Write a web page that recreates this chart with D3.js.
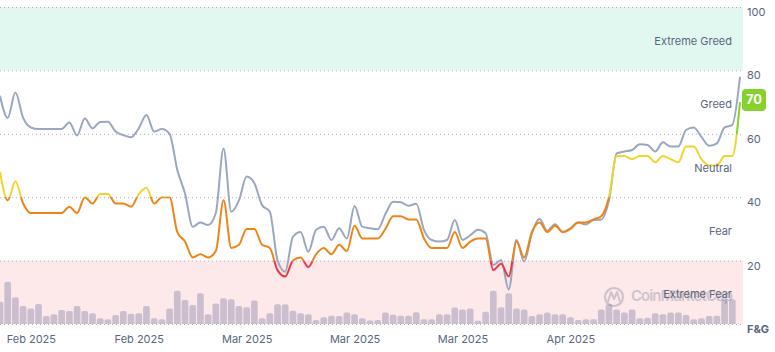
<!DOCTYPE html>
<html>
<head>
<meta charset="utf-8">
<script src="https://cdn.jsdelivr.net/npm/d3@7"></script>
<style>
  html, body { margin: 0; padding: 0; background: #fff; }
  svg { display: block; font-family: Inter, "Noto Sans", sans-serif; }
  .tick-label { font-size: 11px; fill: #58667e; }
  .zone-label { font-size: 11px; fill: #58667e; }
</style>
</head>
<body>
<div id="chart"></div>
<script>
// Fear & Greed index (daily), Bitcoin price (drawn on the index scale), daily volume (relative)
const startDate = new Date(2025, 0, 28);

const fearGreed = [
  48, 39, 45, 38, 35, 35, 35, 35, 35, 37,
  35, 40, 38, 41, 41, 38, 38, 37, 41, 43,
  38, 40, 40, 29, 26, 21, 22, 21, 23, 39,
  24, 25, 30, 30, 25, 24, 17, 15, 20, 21,
  18, 22, 24, 22, 25, 23, 31, 27, 27, 27,
  30, 34, 34, 33, 33, 27, 24, 24, 24, 29,
  24, 26, 27, 27, 17, 19, 15, 26, 21, 29,
  32, 29, 31, 29, 30, 32, 32, 33, 34, 40,
  53, 53, 52, 53, 53, 51, 53, 52, 51, 56,
  56, 52, 50, 50, 53, 53, 70
];

const btcLine = [
  72, 65, 73, 65, 62, 61.5, 61.5, 61.5, 61.5, 63.6,
  59.5, 64.8, 61.7, 63.7, 63.8, 60.7, 59.6, 58.9, 61.7, 65.9,
  60.7, 61.5, 60, 48.6, 41.2, 30.7, 32, 31.2, 35, 55.4,
  35.4, 39, 46.5, 44.4, 37.5, 35.4, 20.2, 16.5, 27.5, 29,
  22.8, 29.7, 30.7, 26.5, 30.2, 27, 37.2, 30.7, 30.2, 29.9,
  34.7, 38.6, 38.4, 37.3, 37.9, 29.7, 26.5, 26, 26.5, 32.8,
  26.5, 28, 29.7, 28.6, 18.6, 20.2, 10.9, 26.5, 19.7, 28.6,
  33.1, 29.4, 31.5, 29, 30.2, 32, 31.4, 32.8, 33, 39,
  53.8, 54.4, 54.9, 56.7, 56.5, 54.4, 57.3, 56, 56, 61.2,
  62, 59, 56.2, 57, 62, 62.8, 78
];

const volume = [
  7.0, 13.3, 8.4, 5.7, 4.9, 6.3, 2.5, 3.1, 4.4, 4.1,
  5.7, 4.1, 3.4, 1.8, 1.5, 2.8, 4.1, 3.2, 3.4, 5.7,
  1.8, 1.5, 4.9, 10.5, 7.6, 6.0, 9.7, 3.1, 6.5, 8.1,
  7.8, 5.7, 5.3, 7.4, 1.8, 3.4, 6.2, 6.2, 4.2, 3.4,
  3.1, 1.3, 2.1, 2.6, 2.5, 3.6, 3.1, 1.8, 1.1, 1.3,
  3.6, 2.9, 2.6, 2.6, 3.7, 1.5, 1.5, 3.1, 3.1, 5.2,
  4.6, 4.9, 1.0, 3.9, 10.5, 5.3, 9.7, 4.9, 4.6, 2.5,
  3.1, 3.6, 3.1, 3.1, 2.1, 1.3, 1.5, 1.5, 4.6, 6.2,
  4.6, 3.6, 4.6, 1.8, 2.0, 3.4, 3.1, 3.6, 3.6, 2.8,
  1.5, 1.8, 2.5, 2.6, 7.8, 7.8
];

const yTicks = [100, 80, 60, 40, 20];
const gridValues = [0, 20, 40, 60, 80, 100];
const zones = [
  { label: "Extreme Greed", mid: 90 },
  { label: "Greed", mid: 70 },
  { label: "Neutral", mid: 50 },
  { label: "Fear", mid: 30 },
  { label: "Extreme Fear", mid: 10 },
];
const xTickDates = [
  new Date(2025, 1, 1), new Date(2025, 1, 15), new Date(2025, 2, 1),
  new Date(2025, 2, 15), new Date(2025, 2, 29), new Date(2025, 3, 12),
];

const COLORS = {
  extremeFear: "#ea3943",
  fear: "#ee8417",
  neutral: "#f3d42f",
  greed: "#84d22b",
  extremeGreed: "#16c784",
  price: "#9aa7be",
  bar: "#cbbfcf",
  text: "#58667e",
};

const WIDTH = 775, HEIGHT = 352;
const PLOT_RIGHT = 743;

const dayOf = (i) => d3.timeDay.offset(startDate, i);

const x = d3.scaleTime()
  .domain([startDate, dayOf(fearGreed.length - 1)])
  .range([0, 740]);

const y = d3.scaleLinear().domain([0, 100]).range([324, 7]);

const step = x(dayOf(1)) - x(dayOf(0));

const svg = d3.select("#chart").append("svg")
  .attr("width", WIDTH)
  .attr("height", HEIGHT);

const defs = svg.append("defs");
defs.append("clipPath").attr("id", "plot-clip")
  .append("rect").attr("x", 0).attr("y", 0).attr("width", PLOT_RIGHT).attr("height", y(0));

// colour by zone: hard stops along the y axis
const grad = defs.append("linearGradient")
  .attr("id", "fg-grad")
  .attr("gradientUnits", "userSpaceOnUse")
  .attr("x1", 0).attr("x2", 0)
  .attr("y1", y(100)).attr("y2", y(0));
const stops = [
  [100, 80, COLORS.extremeGreed],
  [80, 60, COLORS.greed],
  [60, 40, COLORS.neutral],
  [40, 20, COLORS.fear],
  [20, 0, COLORS.extremeFear],
];
stops.forEach(([hi, lo, c]) => {
  grad.append("stop").attr("offset", (100 - hi) / 100).attr("stop-color", c);
  grad.append("stop").attr("offset", (100 - lo) / 100).attr("stop-color", c);
});

// background bands
svg.append("rect")
  .attr("x", 0).attr("y", y(100))
  .attr("width", PLOT_RIGHT).attr("height", y(80) - y(100))
  .attr("fill", "#e1f8f0");
svg.append("rect")
  .attr("x", 0).attr("y", y(20))
  .attr("width", PLOT_RIGHT).attr("height", y(0) - y(20))
  .attr("fill", "#fde8ea");

// volume bars with rounded tops
const plot = svg.append("g").attr("clip-path", "url(#plot-clip)");
const barW = step - 1;
plot.selectAll(".vol")
  .data(volume)
  .join("path")
  .attr("class", "vol")
  .attr("fill", COLORS.bar)
  .attr("d", (d, i) => {
    const cx = x(dayOf(i));
    const x0 = cx - barW / 2, x1 = cx + barW / 2;
    const top = y(d), base = y(0);
    const r = Math.min(2, (base - top) / 2);
    return `M${x0},${base}V${top + r}Q${x0},${top} ${x0 + r},${top}H${x1 - r}Q${x1},${top} ${x1},${top + r}V${base}Z`;
  });

// dotted grid
svg.append("g")
  .selectAll("line")
  .data(gridValues)
  .join("line")
  .attr("x1", 0).attr("x2", PLOT_RIGHT)
  .attr("y1", (d) => y(d) + 0.5).attr("y2", (d) => y(d) + 0.5)
  .attr("stroke", "#aab1bd")
  .attr("stroke-width", 1)
  .attr("stroke-dasharray", "1,3");

// watermark
const wm = svg.append("g").attr("opacity", 0.28);
wm.append("circle")
  .attr("cx", 614).attr("cy", 297).attr("r", 9)
  .attr("fill", "none").attr("stroke", COLORS.text).attr("stroke-width", 2.2);
wm.append("path")
  .attr("d", "M608,302 L611,292 L614,299 L617,292 L620,302")
  .attr("fill", "none").attr("stroke", COLORS.text).attr("stroke-width", 2)
  .attr("stroke-linejoin", "round");
wm.append("text")
  .attr("x", 631).attr("y", 297)
  .attr("dominant-baseline", "middle")
  .attr("font-size", 15).attr("font-weight", 600)
  .attr("textLength", 102)
  .attr("fill", COLORS.text)
  .text("CoinMarketCap");

// zone labels
svg.append("g")
  .selectAll("text")
  .data(zones)
  .join("text")
  .attr("class", "zone-label")
  .attr("x", 732)
  .attr("y", (d) => y(d.mid) + 3)
  .attr("text-anchor", "end")
  .attr("dominant-baseline", "middle")
  .text((d) => d.label);

// lines
const line = d3.line()
  .x((d, i) => x(dayOf(i)))
  .y((d) => y(d))
  .curve(d3.curveMonotoneX);

plot.append("path")
  .datum(btcLine)
  .attr("fill", "none")
  .attr("stroke", COLORS.price)
  .attr("stroke-width", 2)
  .attr("d", line);

plot.append("path")
  .datum(fearGreed)
  .attr("fill", "none")
  .attr("stroke", "url(#fg-grad)")
  .attr("stroke-width", 2)
  .attr("d", line);

// right axis
svg.append("g")
  .selectAll("text")
  .data(yTicks)
  .join("text")
  .attr("class", "tick-label")
  .attr("x", 747)
  .attr("y", (d) => y(d) + 6)
  .attr("dominant-baseline", "middle")
  .text((d) => d);

svg.append("text")
  .attr("x", 747).attr("y", y(0) + 6)
  .attr("dominant-baseline", "middle")
  .attr("font-size", 11).attr("font-weight", 700)
  .attr("fill", COLORS.text)
  .text("F&G");

// current value badge
const last = fearGreed[fearGreed.length - 1];
svg.append("rect")
  .attr("x", 742).attr("y", y(last) - 13)
  .attr("width", 24).attr("height", 22).attr("rx", 4)
  .attr("fill", COLORS.greed);
svg.append("text")
  .attr("x", 754).attr("y", y(last) - 2)
  .attr("text-anchor", "middle")
  .attr("dominant-baseline", "middle")
  .attr("font-size", 13).attr("font-weight", 700)
  .attr("fill", "#fff")
  .text(last);

// bottom axis
const xAxis = svg.append("g")
  .attr("transform", `translate(0,${y(0)})`)
  .call(d3.axisBottom(x).tickValues(xTickDates).tickSize(0).tickFormat(d3.timeFormat("%b %Y")));
xAxis.select(".domain").remove();
xAxis.selectAll("text")
  .attr("class", "tick-label")
  .attr("dy", 0)
  .attr("y", 16)
  .attr("dominant-baseline", "middle")
  .style("font-family", "Inter, 'Noto Sans', sans-serif");
</script>
</body>
</html>
